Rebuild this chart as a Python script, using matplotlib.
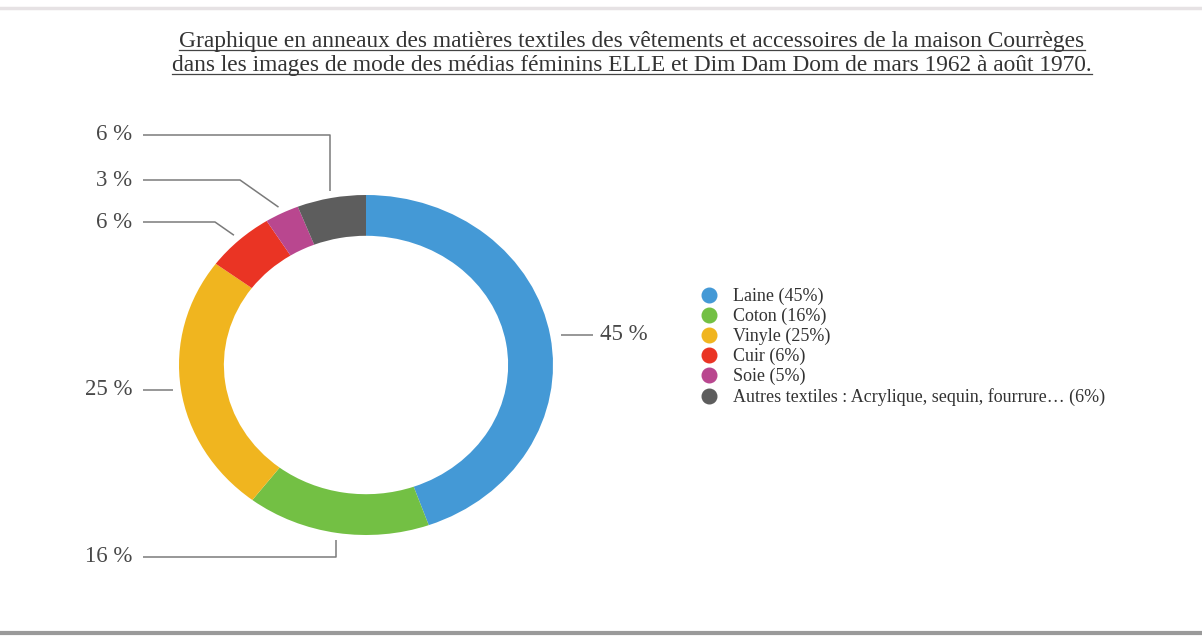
import matplotlib.pyplot as plt
from matplotlib.lines import Line2D
import numpy as np

# data
labels = ['Laine', 'Coton', 'Vinyle', 'Cuir', 'Soie',
          'Autres textiles : Acrylique, sequin, fourrure\u2026']
values = [45, 16, 25, 6, 3, 6]
legend_pct = [45, 16, 25, 6, 5, 6]
colors = ['#4499d6', '#73c044', '#f0b51f', '#ea3424', '#b9478f', '#5d5d5d']
title_lines = ['Graphique en anneaux des mati\u00e8res textiles des v\u00eatements et accessoires de la maison Courr\u00e8ges',
               'dans les images de mode des m\u00e9dias f\u00e9minins ELLE et Dim Dam Dom de mars 1962 \u00e0 ao\u00fbt 1970.']

plt.rcParams['font.family'] = ['Liberation Serif', 'DejaVu Serif']

W, H = 1202, 636
CX, CY = 366, 365   # donut centre, pixels from top-left
RX, RY = 187, 170   # outer radii in pixels (ring is a bit stretched)


def px(x, y):
    # pixel position -> data coordinates of the donut axes
    return (x - CX) / RX, (CY - y) / RY


fig = plt.figure(figsize=(W / 100, H / 100), dpi=100)
ax = fig.add_axes([0, 0, 1, 1])
wedges, _ = ax.pie(values, colors=colors, startangle=90, counterclock=False,
                   radius=1, wedgeprops=dict(width=0.24, edgecolor='none'))
ax.set_aspect('auto')
xa, ya = px(0, H)
xb, yb = px(W, 0)
ax.set_xlim(xa, xb)
ax.set_ylim(ya, yb)
ax.axis('off')

# leader lines + percentage labels
line_kw = dict(color='#7a7a7a', lw=1.1, solid_capstyle='butt')
txt_kw = dict(fontsize=16.5, color='#484848', va='center')
LEFT_X = 143      # where left-hand leader lines begin
TXT_X = 132       # right edge of left-hand labels
# kind, label y (pixels), elbow x (pixels) for each wedge
layout = [('right', None, 593),
          ('down', 557, None),
          ('left', None, None),
          ('diag', 222, 215),
          ('diag', 180, 240),
          ('up', 135, None)]

for w, v, (kind, ty, ex) in zip(wedges, values, layout):
    mid = np.deg2rad((w.theta1 + w.theta2) / 2)
    ax_, ay_ = 1.04 * np.cos(mid), 1.04 * np.sin(mid)
    label = '%d %%' % v
    if kind == 'right':
        x2, _ = px(ex, 0)
        ax.plot([ax_ + 0.02, x2], [ay_, ay_], **line_kw)
        ax.text(px(ex + 7, 0)[0], ay_, label, ha='left', **txt_kw)
    elif kind == 'left':
        ax.plot([px(LEFT_X, 0)[0], ax_], [ay_, ay_], **line_kw)
        ax.text(px(TXT_X, 0)[0], ay_, label, ha='right', **txt_kw)
    elif kind in ('up', 'down'):
        yl = px(0, ty)[1]
        ax.plot([px(LEFT_X, 0)[0], ax_, ax_], [yl, yl, ay_], **line_kw)
        ax.text(px(TXT_X, 0)[0], yl, label, ha='right', **txt_kw)
    else:
        yl = px(0, ty)[1]
        ax.plot([px(LEFT_X, 0)[0], px(ex, 0)[0], ax_], [yl, yl, ay_], **line_kw)
        ax.text(px(TXT_X, 0)[0], yl, label, ha='right', **txt_kw)

# legend
handles = [Line2D([], [], ls='none', marker='o', ms=10.5, mfc=c, mec=c) for c in colors]
leg_labels = ['%s (%d%%)' % (l, p) for l, p in zip(labels, legend_pct)]
fig.legend(handles, leg_labels, loc='upper left',
           bbox_to_anchor=(702 / W, 1 - 288 / H), frameon=False,
           fontsize=13, labelspacing=0.15, handlelength=0.8,
           handletextpad=0.9, borderpad=0, borderaxespad=0,
           labelcolor='#333333')

# underlined two-line title
title_y = [41, 65]
texts = []
for line, y in zip(title_lines, title_y):
    t = fig.text(632 / W, 1 - y / H, line, ha='center', va='center',
                 fontsize=16.8, color='#333333')
    texts.append(t)
fig.canvas.draw()
rend = fig.canvas.get_renderer()
for t in texts:
    bb = t.get_window_extent(rend)
    yu = bb.y0 + 2
    fig.add_artist(Line2D([bb.x0 / W, bb.x1 / W], [yu / H, yu / H],
                          transform=fig.transFigure, color='#444444', lw=0.9))

# page edges of the scanned figure
fig.add_artist(Line2D([0, 1], [1 - 8 / H, 1 - 8 / H], transform=fig.transFigure,
                      color='#e6e2e4', lw=2.5))
fig.add_artist(Line2D([0, 1], [3 / H, 3 / H], transform=fig.transFigure,
                      color='#9a9a9a', lw=3))

fig.savefig('out.png', dpi=100)
